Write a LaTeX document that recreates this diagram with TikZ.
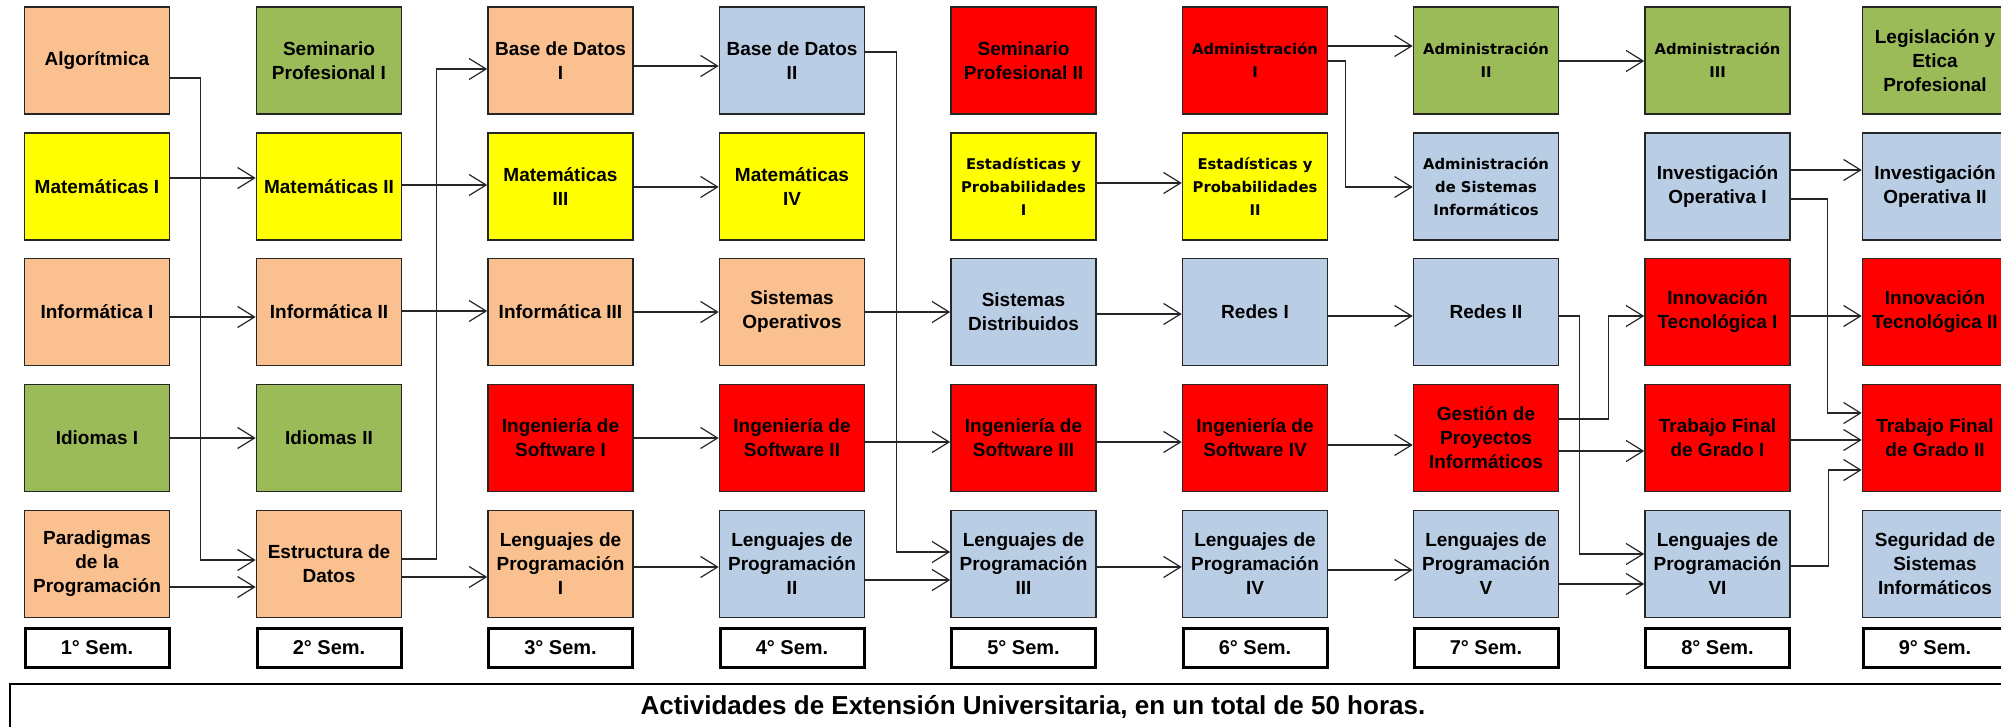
\documentclass[tikz,border=0pt]{standalone}
\usepackage{fontspec}
\setmainfont{Liberation Sans}
\newfontfamily\pixfont{DejaVu Sans}
\usetikzlibrary{arrows.meta}
\definecolor{naranja}{HTML}{FAC090}
\definecolor{amarillo}{HTML}{FFFF00}
\definecolor{verde}{HTML}{9BBB59}
\definecolor{celeste}{HTML}{B9CDE5}
\definecolor{rojo}{HTML}{FF0000}
\tikzset{
  materia/.style={draw=black!85, line width=0.8pt, minimum width=72.5pt, minimum height=53.5pt, inner sep=1pt, align=center, font=\bfseries\fontsize{9.5}{12}\selectfont},
  pix/.style={font=\pixfont\bfseries\fontsize{7.4}{11.5}\selectfont},
  semestre/.style={draw, line width=1.5pt, minimum width=72pt, minimum height=19.5pt, inner sep=1pt, font=\bfseries\fontsize{10}{12}\selectfont},
  flecha/.style={draw=black!85, line width=0.6pt, -{Straight Barb[length=8.5pt,width=10.5pt]}}
}
\begin{document}
\begin{tikzpicture}[x=0.5pt,y=-0.5pt]
\useasboundingbox (0,0) rectangle (2001,727);
\clip (0,0) rectangle (2001,727);
\node[materia,fill=naranja] (alg) at (97,60.5) {Algorítmica};
\node[materia,fill=amarillo] (mat1) at (97,186.5) {Matemáticas I};
\node[materia,fill=naranja] (inf1) at (97,312) {Informática I};
\node[materia,fill=verde] (idi1) at (97,438) {Idiomas I};
\node[materia,fill=naranja] (par) at (97,564) {Paradigmas\\de la\\Programación};
\node[materia,fill=verde] (semp1) at (329,60.5) {Seminario\\Profesional I};
\node[materia,fill=amarillo] (mat2) at (329,186.5) {Matemáticas II};
\node[materia,fill=naranja] (inf2) at (329,312) {Informática II};
\node[materia,fill=verde] (idi2) at (329,438) {Idiomas II};
\node[materia,fill=naranja] (estd) at (329,564) {Estructura de\\Datos};
\node[materia,fill=naranja] (bd1) at (560.5,60.5) {Base de Datos\\I};
\node[materia,fill=amarillo] (mat3) at (560.5,186.5) {Matemáticas\\III};
\node[materia,fill=naranja] (inf3) at (560.5,312) {Informática III};
\node[materia,fill=rojo] (is1) at (560.5,438) {Ingeniería de\\Software I};
\node[materia,fill=naranja] (lp1) at (560.5,564) {Lenguajes de\\Programación\\I};
\node[materia,fill=celeste] (bd2) at (792,60.5) {Base de Datos\\II};
\node[materia,fill=amarillo] (mat4) at (792,186.5) {Matemáticas\\IV};
\node[materia,fill=naranja] (so) at (792,312) {Sistemas\\Operativos};
\node[materia,fill=rojo] (is2) at (792,438) {Ingeniería de\\Software II};
\node[materia,fill=celeste] (lp2) at (792,564) {Lenguajes de\\Programación\\II};
\node[materia,fill=rojo] (semp2) at (1023.5,60.5) {Seminario\\Profesional II};
\node[materia,pix,fill=amarillo] (est1) at (1023.5,186.5) {Estadísticas y\\Probabilidades\\I};
\node[materia,fill=celeste] (sd) at (1023.5,312) {Sistemas\\Distribuidos};
\node[materia,fill=rojo] (is3) at (1023.5,438) {Ingeniería de\\Software III};
\node[materia,fill=celeste] (lp3) at (1023.5,564) {Lenguajes de\\Programación\\III};
\node[materia,pix,fill=rojo] (adm1) at (1255,60.5) {Administración\\I};
\node[materia,pix,fill=amarillo] (est2) at (1255,186.5) {Estadísticas y\\Probabilidades\\II};
\node[materia,fill=celeste] (red1) at (1255,312) {Redes I};
\node[materia,fill=rojo] (is4) at (1255,438) {Ingeniería de\\Software IV};
\node[materia,fill=celeste] (lp4) at (1255,564) {Lenguajes de\\Programación\\IV};
\node[materia,pix,fill=verde] (adm2) at (1486,60.5) {Administración\\II};
\node[materia,pix,fill=celeste] (admsi) at (1486,186.5) {Administración\\de Sistemas\\Informáticos};
\node[materia,fill=celeste] (red2) at (1486,312) {Redes II};
\node[materia,fill=rojo] (gpi) at (1486,438) {Gestión de\\Proyectos\\Informáticos};
\node[materia,fill=celeste] (lp5) at (1486,564) {Lenguajes de\\Programación\\V};
\node[materia,pix,fill=verde] (adm3) at (1717.5,60.5) {Administración\\III};
\node[materia,fill=celeste] (io1) at (1717.5,186.5) {Investigación\\Operativa I};
\node[materia,fill=rojo] (inn1) at (1717.5,312) {Innovación\\Tecnológica I};
\node[materia,fill=rojo] (tfg1) at (1717.5,438) {Trabajo Final\\de Grado I};
\node[materia,fill=celeste] (lp6) at (1717.5,564) {Lenguajes de\\Programación\\VI};
\node[materia,fill=verde] (leg) at (1935,60.5) {Legislación y\\Etica\\Profesional};
\node[materia,fill=celeste] (io2) at (1935,186.5) {Investigación\\Operativa II};
\node[materia,fill=rojo] (inn2) at (1935,312) {Innovación\\Tecnológica II};
\node[materia,fill=rojo] (tfg2) at (1935,438) {Trabajo Final\\de Grado II};
\node[materia,fill=celeste] (ssi) at (1935,564) {Seguridad de\\Sistemas\\Informáticos};
\node[semestre] (s1) at (97,648) {1° Sem.};
\node[semestre] (s2) at (329,648) {2° Sem.};
\node[semestre] (s3) at (560.5,648) {3° Sem.};
\node[semestre] (s4) at (792,648) {4° Sem.};
\node[semestre] (s5) at (1023.5,648) {5° Sem.};
\node[semestre] (s6) at (1255,648) {6° Sem.};
\node[semestre] (s7) at (1486,648) {7° Sem.};
\node[semestre] (s8) at (1717.5,648) {8° Sem.};
\node[semestre] (s9) at (1935,648) {9° Sem.};
\node[draw, line width=1.3pt, minimum width=1023pt, minimum height=23pt, font=\bfseries\fontsize{13}{15}\selectfont] (ext) at (1033,707) {Actividades de Extensión Universitaria, en un total de 50 horas.};
\draw[flecha] (alg.east |- 0,78) -- ++(30,0) |- (estd.west |- 0,560);
\draw[flecha] (mat1.east |- 0,178) -- (mat2.west |- 0,178);
\draw[flecha] (inf1.east |- 0,317) -- (inf2.west |- 0,317);
\draw[flecha] (idi1.east |- 0,438) -- (idi2.west |- 0,438);
\draw[flecha] (par.east |- 0,587) -- (estd.west |- 0,587);
\draw[flecha] (estd.east |- 0,559) -- ++(34,0) |- (bd1.west |- 0,69);
\draw[flecha] (estd.east |- 0,577) -- (lp1.west |- 0,577);
\draw[flecha] (mat2.east |- 0,185) -- (mat3.west |- 0,185);
\draw[flecha] (inf2.east |- 0,311) -- (inf3.west |- 0,311);
\draw[flecha] (bd1.east |- 0,66) -- (bd2.west |- 0,66);
\draw[flecha] (mat3.east |- 0,187) -- (mat4.west |- 0,187);
\draw[flecha] (inf3.east |- 0,312) -- (so.west |- 0,312);
\draw[flecha] (is1.east |- 0,438) -- (is2.west |- 0,438);
\draw[flecha] (lp1.east |- 0,567) -- (lp2.west |- 0,567);
\draw[flecha] (bd2.east |- 0,52) -- ++(31,0) |- (lp3.west |- 0,552);
\draw[flecha] (so.east |- 0,312) -- (sd.west |- 0,312);
\draw[flecha] (is2.east |- 0,442) -- (is3.west |- 0,442);
\draw[flecha] (lp2.east |- 0,580) -- (lp3.west |- 0,580);
\draw[flecha] (est1.east |- 0,183) -- (est2.west |- 0,183);
\draw[flecha] (sd.east |- 0,314) -- (red1.west |- 0,314);
\draw[flecha] (is3.east |- 0,442) -- (is4.west |- 0,442);
\draw[flecha] (lp3.east |- 0,567) -- (lp4.west |- 0,567);
\draw[flecha] (adm1.east |- 0,46) -- (adm2.west |- 0,46);
\draw[flecha] (adm1.east |- 0,61) -- ++(17,0) |- (admsi.west |- 0,187);
\draw[flecha] (red1.east |- 0,316) -- (red2.west |- 0,316);
\draw[flecha] (is4.east |- 0,445) -- (gpi.west |- 0,445);
\draw[flecha] (lp4.east |- 0,570) -- (lp5.west |- 0,570);
\draw[flecha] (adm2.east |- 0,61) -- (adm3.west |- 0,61);
\draw[flecha] (red2.east |- 0,316) -- ++(20,0) |- (lp6.west |- 0,554);
\draw[flecha] (gpi.east |- 0,419) -- ++(49,0) |- (inn1.west |- 0,316);
\draw[flecha] (gpi.east |- 0,451) -- (tfg1.west |- 0,451);
\draw[flecha] (lp5.east |- 0,584) -- (lp6.west |- 0,584);
\draw[flecha] (io1.east |- 0,170) -- (io2.west |- 0,170);
\draw[flecha] (io1.east |- 0,199) -- ++(37,0) |- (tfg2.west |- 0,413);
\draw[flecha] (inn1.east |- 0,316) -- (inn2.west |- 0,316);
\draw[flecha] (tfg1.east |- 0,440) -- (tfg2.west |- 0,440);
\draw[flecha] (lp6.east |- 0,566) -- ++(38,0) |- (tfg2.west |- 0,470);
\end{tikzpicture}
\end{document}
